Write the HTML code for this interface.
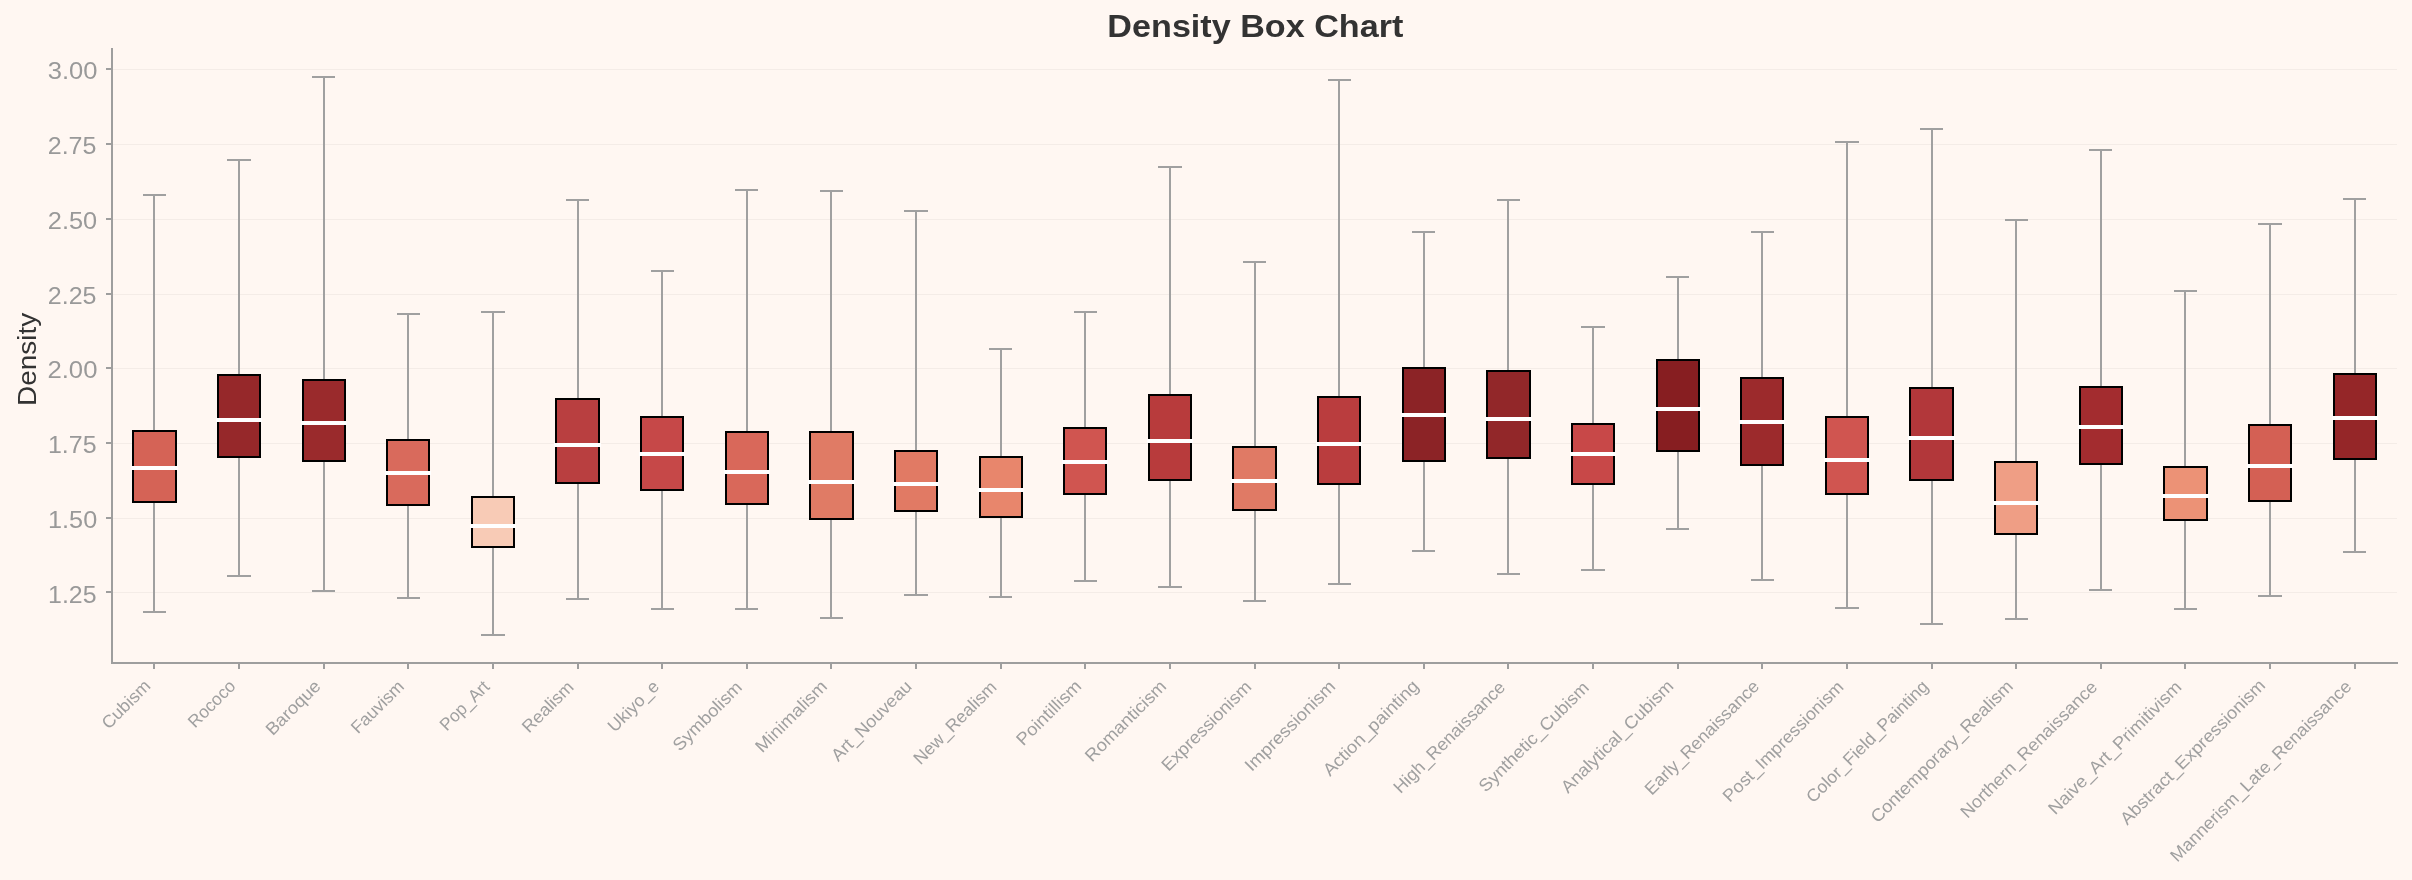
<!DOCTYPE html><html><head><meta charset="utf-8"><style>html,body{margin:0;padding:0;background:#fff7f2;}svg{display:block;will-change:transform}text{font-family:"Liberation Sans",sans-serif}</style></head><body>
<svg width="2412" height="880" viewBox="0 0 2412 880">
<rect x="0" y="0" width="2412" height="880" fill="#fff7f2"/>
<line x1="112.14" y1="592.50" x2="2397.01" y2="592.50" stroke="#f4ece7" stroke-width="1.0"/>
<line x1="112.14" y1="518.50" x2="2397.01" y2="518.50" stroke="#f4ece7" stroke-width="1.0"/>
<line x1="112.14" y1="443.50" x2="2397.01" y2="443.50" stroke="#f4ece7" stroke-width="1.0"/>
<line x1="112.14" y1="368.50" x2="2397.01" y2="368.50" stroke="#f4ece7" stroke-width="1.0"/>
<line x1="112.14" y1="294.50" x2="2397.01" y2="294.50" stroke="#f4ece7" stroke-width="1.0"/>
<line x1="112.14" y1="219.50" x2="2397.01" y2="219.50" stroke="#f4ece7" stroke-width="1.0"/>
<line x1="112.14" y1="144.50" x2="2397.01" y2="144.50" stroke="#f4ece7" stroke-width="1.0"/>
<line x1="112.14" y1="69.50" x2="2397.01" y2="69.50" stroke="#f4ece7" stroke-width="1.0"/>
<path d="M154 431V195M154 502V612" stroke="#a0a0a0" stroke-width="2" fill="none"/>
<path d="M144 195H165M144 612H165" stroke="#a0a0a0" stroke-width="2" stroke-linecap="square" fill="none"/>
<rect x="133" y="431" width="43" height="71" fill="#d56356" stroke="#000" stroke-width="2"/>
<path d="M133 468H176" stroke="#fff" stroke-width="4" stroke-linecap="square" fill="none"/>
<path d="M239 375V160M239 457V576" stroke="#a0a0a0" stroke-width="2" fill="none"/>
<path d="M228 160H250M228 576H250" stroke="#a0a0a0" stroke-width="2" stroke-linecap="square" fill="none"/>
<rect x="218" y="375" width="42" height="82" fill="#96282a" stroke="#000" stroke-width="2"/>
<path d="M218 420H260" stroke="#fff" stroke-width="4" stroke-linecap="square" fill="none"/>
<path d="M324 380V77M324 461V591" stroke="#a0a0a0" stroke-width="2" fill="none"/>
<path d="M313 77H334M313 591H334" stroke="#a0a0a0" stroke-width="2" stroke-linecap="square" fill="none"/>
<rect x="303" y="380" width="42" height="81" fill="#9a2a2c" stroke="#000" stroke-width="2"/>
<path d="M303 423H345" stroke="#fff" stroke-width="4" stroke-linecap="square" fill="none"/>
<path d="M408 440V314M408 505V598" stroke="#a0a0a0" stroke-width="2" fill="none"/>
<path d="M398 314H419M398 598H419" stroke="#a0a0a0" stroke-width="2" stroke-linecap="square" fill="none"/>
<rect x="387" y="440" width="42" height="65" fill="#d96a5c" stroke="#000" stroke-width="2"/>
<path d="M387 473H429" stroke="#fff" stroke-width="4" stroke-linecap="square" fill="none"/>
<path d="M493 497V312M493 547V635" stroke="#a0a0a0" stroke-width="2" fill="none"/>
<path d="M482 312H504M482 635H504" stroke="#a0a0a0" stroke-width="2" stroke-linecap="square" fill="none"/>
<rect x="472" y="497" width="42" height="50" fill="#f8cbb6" stroke="#000" stroke-width="2"/>
<path d="M472 526H514" stroke="#fff" stroke-width="4" stroke-linecap="square" fill="none"/>
<path d="M578 399V200M578 483V599" stroke="#a0a0a0" stroke-width="2" fill="none"/>
<path d="M567 200H588M567 599H588" stroke="#a0a0a0" stroke-width="2" stroke-linecap="square" fill="none"/>
<rect x="556" y="399" width="43" height="84" fill="#b93f40" stroke="#000" stroke-width="2"/>
<path d="M556 445H599" stroke="#fff" stroke-width="4" stroke-linecap="square" fill="none"/>
<path d="M662 417V271M662 490V609" stroke="#a0a0a0" stroke-width="2" fill="none"/>
<path d="M652 271H673M652 609H673" stroke="#a0a0a0" stroke-width="2" stroke-linecap="square" fill="none"/>
<rect x="641" y="417" width="42" height="73" fill="#c64848" stroke="#000" stroke-width="2"/>
<path d="M641 454H683" stroke="#fff" stroke-width="4" stroke-linecap="square" fill="none"/>
<path d="M747 432V190M747 504V609" stroke="#a0a0a0" stroke-width="2" fill="none"/>
<path d="M736 190H757M736 609H757" stroke="#a0a0a0" stroke-width="2" stroke-linecap="square" fill="none"/>
<rect x="726" y="432" width="42" height="72" fill="#d9685a" stroke="#000" stroke-width="2"/>
<path d="M726 472H768" stroke="#fff" stroke-width="4" stroke-linecap="square" fill="none"/>
<path d="M831 432V191M831 519V618" stroke="#a0a0a0" stroke-width="2" fill="none"/>
<path d="M821 191H842M821 618H842" stroke="#a0a0a0" stroke-width="2" stroke-linecap="square" fill="none"/>
<rect x="810" y="432" width="43" height="87" fill="#e07b65" stroke="#000" stroke-width="2"/>
<path d="M810 482H853" stroke="#fff" stroke-width="4" stroke-linecap="square" fill="none"/>
<path d="M916 451V211M916 511V595" stroke="#a0a0a0" stroke-width="2" fill="none"/>
<path d="M905 211H927M905 595H927" stroke="#a0a0a0" stroke-width="2" stroke-linecap="square" fill="none"/>
<rect x="895" y="451" width="42" height="60" fill="#e17a64" stroke="#000" stroke-width="2"/>
<path d="M895 484H937" stroke="#fff" stroke-width="4" stroke-linecap="square" fill="none"/>
<path d="M1001 457V349M1001 517V597" stroke="#a0a0a0" stroke-width="2" fill="none"/>
<path d="M990 349H1011M990 597H1011" stroke="#a0a0a0" stroke-width="2" stroke-linecap="square" fill="none"/>
<rect x="980" y="457" width="42" height="60" fill="#e8866c" stroke="#000" stroke-width="2"/>
<path d="M980 490H1022" stroke="#fff" stroke-width="4" stroke-linecap="square" fill="none"/>
<path d="M1085 428V312M1085 494V581" stroke="#a0a0a0" stroke-width="2" fill="none"/>
<path d="M1075 312H1096M1075 581H1096" stroke="#a0a0a0" stroke-width="2" stroke-linecap="square" fill="none"/>
<rect x="1064" y="428" width="42" height="66" fill="#d05550" stroke="#000" stroke-width="2"/>
<path d="M1064 462H1106" stroke="#fff" stroke-width="4" stroke-linecap="square" fill="none"/>
<path d="M1170 395V167M1170 480V587" stroke="#a0a0a0" stroke-width="2" fill="none"/>
<path d="M1159 167H1181M1159 587H1181" stroke="#a0a0a0" stroke-width="2" stroke-linecap="square" fill="none"/>
<rect x="1149" y="395" width="42" height="85" fill="#b83b3c" stroke="#000" stroke-width="2"/>
<path d="M1149 441H1191" stroke="#fff" stroke-width="4" stroke-linecap="square" fill="none"/>
<path d="M1255 447V262M1255 510V601" stroke="#a0a0a0" stroke-width="2" fill="none"/>
<path d="M1244 262H1265M1244 601H1265" stroke="#a0a0a0" stroke-width="2" stroke-linecap="square" fill="none"/>
<rect x="1233" y="447" width="43" height="63" fill="#e07a65" stroke="#000" stroke-width="2"/>
<path d="M1233 481H1276" stroke="#fff" stroke-width="4" stroke-linecap="square" fill="none"/>
<path d="M1339 397V80M1339 484V584" stroke="#a0a0a0" stroke-width="2" fill="none"/>
<path d="M1329 80H1350M1329 584H1350" stroke="#a0a0a0" stroke-width="2" stroke-linecap="square" fill="none"/>
<rect x="1318" y="397" width="42" height="87" fill="#ba3d3e" stroke="#000" stroke-width="2"/>
<path d="M1318 444H1360" stroke="#fff" stroke-width="4" stroke-linecap="square" fill="none"/>
<path d="M1424 368V232M1424 461V551" stroke="#a0a0a0" stroke-width="2" fill="none"/>
<path d="M1413 232H1434M1413 551H1434" stroke="#a0a0a0" stroke-width="2" stroke-linecap="square" fill="none"/>
<rect x="1403" y="368" width="42" height="93" fill="#8c2326" stroke="#000" stroke-width="2"/>
<path d="M1403 415H1445" stroke="#fff" stroke-width="4" stroke-linecap="square" fill="none"/>
<path d="M1508 371V200M1508 458V574" stroke="#a0a0a0" stroke-width="2" fill="none"/>
<path d="M1498 200H1519M1498 574H1519" stroke="#a0a0a0" stroke-width="2" stroke-linecap="square" fill="none"/>
<rect x="1487" y="371" width="43" height="87" fill="#922729" stroke="#000" stroke-width="2"/>
<path d="M1487 419H1530" stroke="#fff" stroke-width="4" stroke-linecap="square" fill="none"/>
<path d="M1593 424V327M1593 484V570" stroke="#a0a0a0" stroke-width="2" fill="none"/>
<path d="M1582 327H1604M1582 570H1604" stroke="#a0a0a0" stroke-width="2" stroke-linecap="square" fill="none"/>
<rect x="1572" y="424" width="42" height="60" fill="#c84848" stroke="#000" stroke-width="2"/>
<path d="M1572 454H1614" stroke="#fff" stroke-width="4" stroke-linecap="square" fill="none"/>
<path d="M1678 360V277M1678 451V529" stroke="#a0a0a0" stroke-width="2" fill="none"/>
<path d="M1667 277H1688M1667 529H1688" stroke="#a0a0a0" stroke-width="2" stroke-linecap="square" fill="none"/>
<rect x="1657" y="360" width="42" height="91" fill="#871e21" stroke="#000" stroke-width="2"/>
<path d="M1657 409H1699" stroke="#fff" stroke-width="4" stroke-linecap="square" fill="none"/>
<path d="M1762 378V232M1762 465V580" stroke="#a0a0a0" stroke-width="2" fill="none"/>
<path d="M1752 232H1773M1752 580H1773" stroke="#a0a0a0" stroke-width="2" stroke-linecap="square" fill="none"/>
<rect x="1741" y="378" width="42" height="87" fill="#9c2a2c" stroke="#000" stroke-width="2"/>
<path d="M1741 422H1783" stroke="#fff" stroke-width="4" stroke-linecap="square" fill="none"/>
<path d="M1847 417V142M1847 494V608" stroke="#a0a0a0" stroke-width="2" fill="none"/>
<path d="M1836 142H1858M1836 608H1858" stroke="#a0a0a0" stroke-width="2" stroke-linecap="square" fill="none"/>
<rect x="1826" y="417" width="42" height="77" fill="#d05550" stroke="#000" stroke-width="2"/>
<path d="M1826 460H1868" stroke="#fff" stroke-width="4" stroke-linecap="square" fill="none"/>
<path d="M1932 388V129M1932 480V624" stroke="#a0a0a0" stroke-width="2" fill="none"/>
<path d="M1921 129H1942M1921 624H1942" stroke="#a0a0a0" stroke-width="2" stroke-linecap="square" fill="none"/>
<rect x="1910" y="388" width="43" height="92" fill="#b2373a" stroke="#000" stroke-width="2"/>
<path d="M1910 438H1953" stroke="#fff" stroke-width="4" stroke-linecap="square" fill="none"/>
<path d="M2016 462V220M2016 534V619" stroke="#a0a0a0" stroke-width="2" fill="none"/>
<path d="M2006 220H2027M2006 619H2027" stroke="#a0a0a0" stroke-width="2" stroke-linecap="square" fill="none"/>
<rect x="1995" y="462" width="42" height="72" fill="#ef9e85" stroke="#000" stroke-width="2"/>
<path d="M1995 503H2037" stroke="#fff" stroke-width="4" stroke-linecap="square" fill="none"/>
<path d="M2101 387V150M2101 464V590" stroke="#a0a0a0" stroke-width="2" fill="none"/>
<path d="M2090 150H2111M2090 590H2111" stroke="#a0a0a0" stroke-width="2" stroke-linecap="square" fill="none"/>
<rect x="2080" y="387" width="42" height="77" fill="#a32c2f" stroke="#000" stroke-width="2"/>
<path d="M2080 427H2122" stroke="#fff" stroke-width="4" stroke-linecap="square" fill="none"/>
<path d="M2185 467V291M2185 520V609" stroke="#a0a0a0" stroke-width="2" fill="none"/>
<path d="M2175 291H2196M2175 609H2196" stroke="#a0a0a0" stroke-width="2" stroke-linecap="square" fill="none"/>
<rect x="2164" y="467" width="43" height="53" fill="#ec9276" stroke="#000" stroke-width="2"/>
<path d="M2164 496H2207" stroke="#fff" stroke-width="4" stroke-linecap="square" fill="none"/>
<path d="M2270 425V224M2270 501V596" stroke="#a0a0a0" stroke-width="2" fill="none"/>
<path d="M2259 224H2281M2259 596H2281" stroke="#a0a0a0" stroke-width="2" stroke-linecap="square" fill="none"/>
<rect x="2249" y="425" width="42" height="76" fill="#d46054" stroke="#000" stroke-width="2"/>
<path d="M2249 466H2291" stroke="#fff" stroke-width="4" stroke-linecap="square" fill="none"/>
<path d="M2355 374V199M2355 459V552" stroke="#a0a0a0" stroke-width="2" fill="none"/>
<path d="M2344 199H2365M2344 552H2365" stroke="#a0a0a0" stroke-width="2" stroke-linecap="square" fill="none"/>
<rect x="2334" y="374" width="42" height="85" fill="#952628" stroke="#000" stroke-width="2"/>
<path d="M2334 418H2376" stroke="#fff" stroke-width="4" stroke-linecap="square" fill="none"/>
<path d="M112 48V663H2398" stroke="#9e9e9e" stroke-width="2" stroke-linecap="butt" stroke-linejoin="miter" fill="none"/>
<path d="M106 592H112" stroke="#9e9e9e" stroke-width="2" fill="none"/>
<path d="M106 518H112" stroke="#9e9e9e" stroke-width="2" fill="none"/>
<path d="M106 443H112" stroke="#9e9e9e" stroke-width="2" fill="none"/>
<path d="M106 368H112" stroke="#9e9e9e" stroke-width="2" fill="none"/>
<path d="M106 294H112" stroke="#9e9e9e" stroke-width="2" fill="none"/>
<path d="M106 219H112" stroke="#9e9e9e" stroke-width="2" fill="none"/>
<path d="M106 144H112" stroke="#9e9e9e" stroke-width="2" fill="none"/>
<path d="M106 69H112" stroke="#9e9e9e" stroke-width="2" fill="none"/>
<path d="M154 663V669" stroke="#9e9e9e" stroke-width="2" fill="none"/>
<path d="M239 663V669" stroke="#9e9e9e" stroke-width="2" fill="none"/>
<path d="M324 663V669" stroke="#9e9e9e" stroke-width="2" fill="none"/>
<path d="M408 663V669" stroke="#9e9e9e" stroke-width="2" fill="none"/>
<path d="M493 663V669" stroke="#9e9e9e" stroke-width="2" fill="none"/>
<path d="M578 663V669" stroke="#9e9e9e" stroke-width="2" fill="none"/>
<path d="M662 663V669" stroke="#9e9e9e" stroke-width="2" fill="none"/>
<path d="M747 663V669" stroke="#9e9e9e" stroke-width="2" fill="none"/>
<path d="M831 663V669" stroke="#9e9e9e" stroke-width="2" fill="none"/>
<path d="M916 663V669" stroke="#9e9e9e" stroke-width="2" fill="none"/>
<path d="M1001 663V669" stroke="#9e9e9e" stroke-width="2" fill="none"/>
<path d="M1085 663V669" stroke="#9e9e9e" stroke-width="2" fill="none"/>
<path d="M1170 663V669" stroke="#9e9e9e" stroke-width="2" fill="none"/>
<path d="M1255 663V669" stroke="#9e9e9e" stroke-width="2" fill="none"/>
<path d="M1339 663V669" stroke="#9e9e9e" stroke-width="2" fill="none"/>
<path d="M1424 663V669" stroke="#9e9e9e" stroke-width="2" fill="none"/>
<path d="M1508 663V669" stroke="#9e9e9e" stroke-width="2" fill="none"/>
<path d="M1593 663V669" stroke="#9e9e9e" stroke-width="2" fill="none"/>
<path d="M1678 663V669" stroke="#9e9e9e" stroke-width="2" fill="none"/>
<path d="M1762 663V669" stroke="#9e9e9e" stroke-width="2" fill="none"/>
<path d="M1847 663V669" stroke="#9e9e9e" stroke-width="2" fill="none"/>
<path d="M1932 663V669" stroke="#9e9e9e" stroke-width="2" fill="none"/>
<path d="M2016 663V669" stroke="#9e9e9e" stroke-width="2" fill="none"/>
<path d="M2101 663V669" stroke="#9e9e9e" stroke-width="2" fill="none"/>
<path d="M2185 663V669" stroke="#9e9e9e" stroke-width="2" fill="none"/>
<path d="M2270 663V669" stroke="#9e9e9e" stroke-width="2" fill="none"/>
<path d="M2355 663V669" stroke="#9e9e9e" stroke-width="2" fill="none"/>
<text x="1107.38" y="37.22" font-size="30.80" font-weight="bold" fill="#333333" textLength="296.00" lengthAdjust="spacingAndGlyphs">Density Box Chart</text>
<text x="36.43" y="405.94" font-size="26.20" fill="#333333" textLength="93.23" lengthAdjust="spacingAndGlyphs" transform="rotate(-90 36.43 405.94)">Density</text>
<text x="48.09" y="603.28" font-size="24.20" fill="#999999" textLength="48.46" lengthAdjust="spacingAndGlyphs">1.25</text>
<text x="48.06" y="527.55" font-size="24.20" fill="#999999" textLength="49.15" lengthAdjust="spacingAndGlyphs">1.50</text>
<text x="47.96" y="452.81" font-size="24.20" fill="#999999" textLength="48.55" lengthAdjust="spacingAndGlyphs">1.75</text>
<text x="47.44" y="377.58" font-size="24.20" fill="#999999" textLength="49.98" lengthAdjust="spacingAndGlyphs">2.00</text>
<text x="47.85" y="304.34" font-size="24.20" fill="#999999" textLength="48.67" lengthAdjust="spacingAndGlyphs">2.25</text>
<text x="47.83" y="228.60" font-size="24.20" fill="#999999" textLength="49.34" lengthAdjust="spacingAndGlyphs">2.50</text>
<text x="47.73" y="153.87" font-size="24.20" fill="#999999" textLength="48.67" lengthAdjust="spacingAndGlyphs">2.75</text>
<text x="47.76" y="79.13" font-size="24.20" fill="#999999" textLength="49.73" lengthAdjust="spacingAndGlyphs">3.00</text>
<text x="108.70" y="729.97" font-size="17.50" fill="#a0a0a0" textLength="60.69" lengthAdjust="spacingAndGlyphs" transform="rotate(-45 108.70 729.97)">Cubism</text>
<text x="195.07" y="728.72" font-size="17.50" fill="#a0a0a0" textLength="58.81" lengthAdjust="spacingAndGlyphs" transform="rotate(-45 195.07 728.72)">Rococo</text>
<text x="272.67" y="736.26" font-size="17.50" fill="#a0a0a0" textLength="69.24" lengthAdjust="spacingAndGlyphs" transform="rotate(-45 272.67 736.26)">Baroque</text>
<text x="357.98" y="734.59" font-size="17.50" fill="#a0a0a0" textLength="66.56" lengthAdjust="spacingAndGlyphs" transform="rotate(-45 357.98 734.59)">Fauvism</text>
<text x="446.65" y="731.68" font-size="17.50" fill="#a0a0a0" textLength="62.09" lengthAdjust="spacingAndGlyphs" transform="rotate(-45 446.65 731.68)">Pop_Art</text>
<text x="529.09" y="733.74" font-size="17.50" fill="#a0a0a0" textLength="64.46" lengthAdjust="spacingAndGlyphs" transform="rotate(-45 529.09 733.74)">Realism</text>
<text x="614.81" y="733.03" font-size="17.50" fill="#a0a0a0" textLength="64.28" lengthAdjust="spacingAndGlyphs" transform="rotate(-45 614.81 733.03)">Ukiyo_e</text>
<text x="679.71" y="751.96" font-size="17.50" fill="#a0a0a0" textLength="89.80" lengthAdjust="spacingAndGlyphs" transform="rotate(-45 679.71 751.96)">Symbolism</text>
<text x="762.27" y="753.47" font-size="17.50" fill="#a0a0a0" textLength="93.16" lengthAdjust="spacingAndGlyphs" transform="rotate(-45 762.27 753.47)">Minimalism</text>
<text x="838.36" y="762.14" font-size="17.50" fill="#a0a0a0" textLength="105.46" lengthAdjust="spacingAndGlyphs" transform="rotate(-45 838.36 762.14)">Art_Nouveau</text>
<text x="920.48" y="765.41" font-size="17.50" fill="#a0a0a0" textLength="109.07" lengthAdjust="spacingAndGlyphs" transform="rotate(-45 920.48 765.41)">New_Realism</text>
<text x="1023.25" y="746.40" font-size="17.50" fill="#a0a0a0" textLength="83.73" lengthAdjust="spacingAndGlyphs" transform="rotate(-45 1023.25 746.40)">Pointillism</text>
<text x="1092.14" y="762.65" font-size="17.50" fill="#a0a0a0" textLength="106.25" lengthAdjust="spacingAndGlyphs" transform="rotate(-45 1092.14 762.65)">Romanticism</text>
<text x="1168.49" y="772.00" font-size="17.50" fill="#a0a0a0" textLength="118.66" lengthAdjust="spacingAndGlyphs" transform="rotate(-45 1168.49 772.00)">Expressionism</text>
<text x="1251.82" y="772.24" font-size="17.50" fill="#a0a0a0" textLength="119.65" lengthAdjust="spacingAndGlyphs" transform="rotate(-45 1251.82 772.24)">Impressionism</text>
<text x="1329.90" y="777.11" font-size="17.50" fill="#a0a0a0" textLength="127.35" lengthAdjust="spacingAndGlyphs" transform="rotate(-45 1329.90 777.11)">Action_painting</text>
<text x="1400.41" y="794.29" font-size="17.50" fill="#a0a0a0" textLength="149.78" lengthAdjust="spacingAndGlyphs" transform="rotate(-45 1400.41 794.29)">High_Renaissance</text>
<text x="1485.81" y="793.03" font-size="17.50" fill="#a0a0a0" textLength="147.47" lengthAdjust="spacingAndGlyphs" transform="rotate(-45 1485.81 793.03)">Synthetic_Cubism</text>
<text x="1568.01" y="793.90" font-size="17.50" fill="#a0a0a0" textLength="150.82" lengthAdjust="spacingAndGlyphs" transform="rotate(-45 1568.01 793.90)">Analytical_Cubism</text>
<text x="1651.67" y="795.94" font-size="17.50" fill="#a0a0a0" textLength="153.55" lengthAdjust="spacingAndGlyphs" transform="rotate(-45 1651.67 795.94)">Early_Renaissance</text>
<text x="1729.81" y="802.94" font-size="17.50" fill="#a0a0a0" textLength="162.46" lengthAdjust="spacingAndGlyphs" transform="rotate(-45 1729.81 802.94)">Post_Impressionism</text>
<text x="1813.15" y="803.73" font-size="17.50" fill="#a0a0a0" textLength="164.40" lengthAdjust="spacingAndGlyphs" transform="rotate(-45 1813.15 803.73)">Color_Field_Painting</text>
<text x="1877.70" y="823.82" font-size="17.50" fill="#a0a0a0" textLength="192.95" lengthAdjust="spacingAndGlyphs" transform="rotate(-45 1877.70 823.82)">Contemporary_Realism</text>
<text x="1967.45" y="818.97" font-size="17.50" fill="#a0a0a0" textLength="185.09" lengthAdjust="spacingAndGlyphs" transform="rotate(-45 1967.45 818.97)">Northern_Renaissance</text>
<text x="2055.31" y="815.54" font-size="17.50" fill="#a0a0a0" textLength="180.14" lengthAdjust="spacingAndGlyphs" transform="rotate(-45 2055.31 815.54)">Naive_Art_Primitivism</text>
<text x="2127.16" y="825.65" font-size="17.50" fill="#a0a0a0" textLength="196.97" lengthAdjust="spacingAndGlyphs" transform="rotate(-45 2127.16 825.65)">Abstract_Expressionism</text>
<text x="2177.30" y="862.82" font-size="17.50" fill="#a0a0a0" textLength="247.78" lengthAdjust="spacingAndGlyphs" transform="rotate(-45 2177.30 862.82)">Mannerism_Late_Renaissance</text>
</svg></body></html>
